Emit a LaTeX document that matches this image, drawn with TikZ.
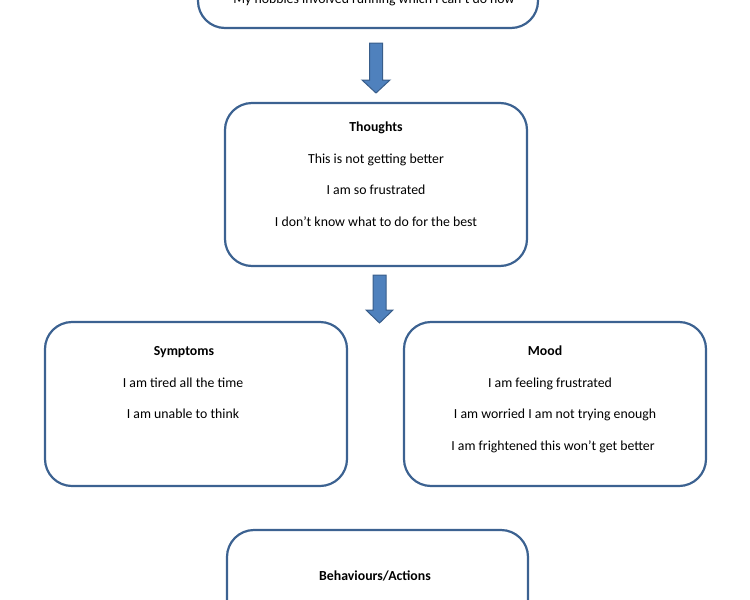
\documentclass[tikz,border=0pt]{standalone}
\usepackage{fontspec}
\setmainfont{Carlito}
\definecolor{boxline}{RGB}{60,98,145}
\definecolor{arrowfill}{RGB}{79,129,189}
\definecolor{arrowline}{RGB}{56,93,138}
\begin{document}
\begin{tikzpicture}[x=1pt,y=-1pt,
  box/.style={draw=boxline, line width=2.2pt, rounded corners=27pt, rectangle, inner sep=0pt},
  txt/.style={font=\fontsize{13.8}{16}\selectfont, inner sep=0pt, anchor=base},
  ttl/.style={txt, font=\fontsize{13.8}{16}\selectfont\bfseries},
  blockarrow/.style={fill=arrowfill, draw=arrowline, line width=1pt, line join=miter}]
\useasboundingbox (0,0) rectangle (750,600);
\begin{scope}
\clip (0,0) rectangle (750,600);
% boxes
\node[box, minimum width=340pt, minimum height=80pt] (top) at (368,-12) {};
\node[box, minimum width=302pt, minimum height=163pt] (thoughts) at (376,184.5) {};
\node[box, minimum width=302pt, minimum height=164pt] (symptoms) at (196,404) {};
\node[box, minimum width=302pt, minimum height=164pt] (mood) at (555,404) {};
\node[box, minimum width=301pt, minimum height=164pt] (behaviours) at (377.5,612) {};
% texts
\node[txt] (t0) at (374,3) {My hobbies involved running which I can’t do now};
\node[ttl] (th0) at (376,131) {Thoughts};
\node[txt] (th1) at (376,163) {This is not getting better};
\node[txt] (th2) at (376,194) {I am so frustrated};
\node[txt] (th3) at (376,226) {I don’t know what to do for the best};
\node[ttl] (s0) at (184,355) {Symptoms};
\node[txt] (s1) at (183,387) {I am tired all the time};
\node[txt] (s2) at (183,418) {I am unable to think};
\node[ttl] (m0) at (545,355) {Mood};
\node[txt] (m1) at (550,387) {I am feeling frustrated};
\node[txt] (m2) at (555,418) {I am worried I am not trying enough};
\node[txt] (m3) at (553,450) {I am frightened this won’t get better};
\node[ttl] (b0) at (375,580) {Behaviours/Actions};
% block arrows
\draw[blockarrow] (369.5,43) -- (382.5,43) -- (382.5,80) -- (390,80) -- (376,93) -- (362,80) -- (369.5,80) -- cycle;
\draw[blockarrow] (373,275) -- (386,275) -- (386,310) -- (393,310) -- (379.5,323) -- (366,310) -- (373,310) -- cycle;
\end{scope}
\end{tikzpicture}
\end{document}
